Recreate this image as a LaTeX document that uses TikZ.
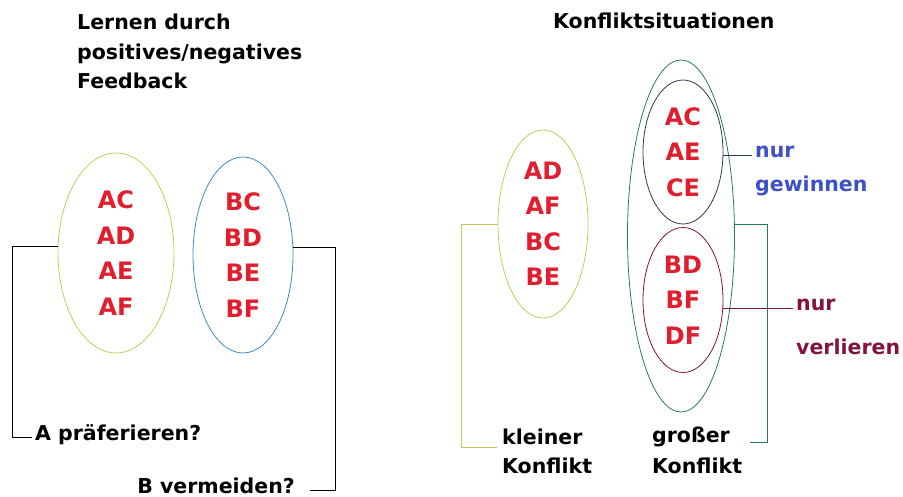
\documentclass[tikz,border=0pt]{standalone}
\usepackage{fontspec}
\setmainfont{DejaVu Sans}
\usetikzlibrary{shapes.geometric, positioning}

\definecolor{setyellow}{RGB}{200,200,90}
\definecolor{setblue}{RGB}{60,140,190}
\definecolor{setteal}{RGB}{40,120,100}
\definecolor{setnavy}{RGB}{40,60,80}
\definecolor{setmaroon}{RGB}{130,20,60}
\definecolor{wincol}{RGB}{60,80,200}
\definecolor{pairred}{RGB}{225,30,45}

\tikzset{
  set/.style={ellipse, draw, line width=0.8pt, inner sep=0pt},
  pairs/.style={text=pairred, align=center, font=\fontsize{24}{35.5}\selectfont\bfseries},
  lbl/.style={align=left, inner sep=0pt, font=\fontsize{20.5}{29.5}\selectfont\bfseries},
  bracket/.style={line width=0.8pt}
}

\begin{document}
\begin{tikzpicture}[x=1pt, y=-1pt]
\useasboundingbox (0,0) rectangle (903,497);

% Lernen durch Feedback
\node[lbl, anchor=base west] (title1) at (77,89) {Lernen durch\\positives/negatives\\Feedback};
\node[set, pairs, draw=setyellow, minimum width=116, minimum height=200] (prefA) at (116,253) {AC\\AD\\AE\\AF};
\node[set, pairs, draw=setblue, minimum width=100, minimum height=196] (avoidB) at (243,255) {BC\\BD\\BE\\BF};
\node[lbl, anchor=base west] (pref) at (35,440) {A präferieren?};
\node[lbl, anchor=base east] (avoid) at (295,493) {B vermeiden?};
\draw[bracket] (prefA.174) -- ++(-45,0) |- ([xshift=-3]pref.mid west);
\draw[bracket] (avoidB.9) -- ++(42,0) |- ([xshift=15]avoid.mid east);

% Konfliktsituationen
\node[lbl, anchor=base west] (title2) at (553,29) {Konfliktsituationen};
\node[set, pairs, draw=setyellow, minimum width=90, minimum height=188] (small) at (543,224) {AD\\AF\\BC\\BE};
\node[set, draw=setteal, minimum width=107, minimum height=352] (big) at (681,236) {};
\node[set, pairs, draw=setnavy, minimum width=80, minimum height=144] (win) at (683,152) {AC\\AE\\CE};
\node[set, pairs, draw=setmaroon, minimum width=80, minimum height=145] (lose) at (683,300) {BD\\BF\\DF};
\node[lbl, anchor=mid west, text=wincol] (wintxt) at (755,155) {nur};
\node[lbl, anchor=base west, text=wincol] (wintxt2) at (755,192) {gewinnen};
\node[lbl, anchor=mid west, text=setmaroon] (losetxt) at (796,308) {nur};
\node[lbl, anchor=base west, text=setmaroon] (losetxt2) at (796,355) {verlieren};
\node[lbl, anchor=base west] (kl) at (502,444) {kleiner};
\node[lbl, anchor=base west] (klk) at (502,473) {Konflikt};
\node[lbl, anchor=base west] (gr) at (652,442) {großer};
\node[lbl, anchor=base west] (grk) at (652,473) {Konflikt};
\draw[bracket, setnavy] (win.east |- wintxt.mid west) -- ([xshift=-3]wintxt.mid west);
\draw[bracket, setmaroon] (lose.east |- losetxt.mid west) -- ([xshift=-3]losetxt.mid west);
\draw[bracket, setyellow] (small.west) -- ++(-36,0) |- ([shift={(-5pt,-3pt)}]kl.base west);
\draw[bracket, setteal] (big.12) -- ++(33,0) |- ([xshift=20]gr.base east);
\end{tikzpicture}
\end{document}
